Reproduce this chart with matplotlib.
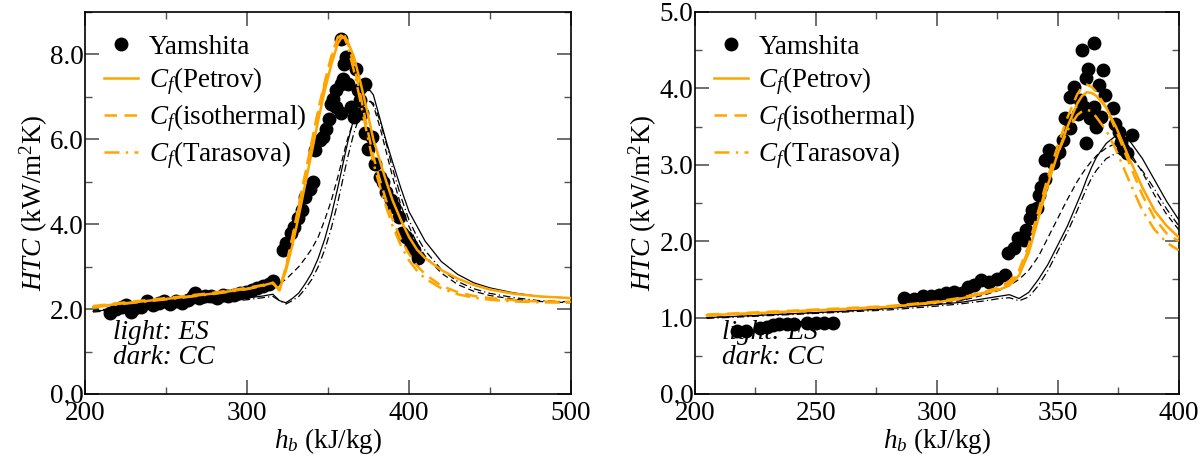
import numpy as np
import matplotlib
matplotlib.use("Agg")
import matplotlib.pyplot as plt
from matplotlib.font_manager import FontProperties

plt.rcParams['font.family'] = ['Liberation Serif', 'DejaVu Serif']
plt.rcParams['mathtext.fontset'] = 'custom'
plt.rcParams['mathtext.rm'] = 'Liberation Serif'
plt.rcParams['mathtext.it'] = 'Liberation Serif:italic'
plt.rcParams['font.size'] = 19.5

ORANGE = '#ffa500'
FS = 19.5

# ---------------- left panel ----------------
exp_hb_L = [215.5, 219.1, 222.7, 225.1, 228.7, 231.1, 234.7, 238.3, 241.8, 245.4,
            249.0, 252.6, 256.2, 259.8, 263.4, 266.9, 268.1, 270.5, 274.1, 277.7,
            281.3, 284.9, 288.5, 292.0, 295.6, 299.2, 302.8, 306.4, 310.0, 313.6,
            315.9,
            322, 324, 327, 329, 331.5, 334, 336, 339, 341, 342, 345, 347, 349,
            350.6, 352, 353, 355, 358, 359, 358, 360, 361, 355, 358, 362.5, 364,
            366, 367, 368.5, 370, 371, 373, 373, 374.5, 377, 379, 382, 384, 386,
            389, 391, 393.6, 396, 398, 401, 403, 405.6]
exp_htc_L = [1.90, 2.00, 2.06, 2.10, 1.94, 2.02, 2.06, 2.18, 2.10, 2.14,
             2.18, 2.13, 2.18, 2.14, 2.22, 2.30, 2.37, 2.25, 2.30, 2.31,
             2.27, 2.34, 2.30, 2.34, 2.37, 2.41, 2.45, 2.49, 2.54, 2.60,
             2.66,
             3.39, 3.55, 3.79, 3.94, 4.14, 4.33, 4.65, 4.84, 5.0, 5.74, 5.98, 6.06,
             6.25, 6.49, 6.84, 6.96, 7.16, 7.31, 7.43, 8.37, 7.78, 7.94, 6.76, 6.61,
             7.31, 6.76, 6.53, 7.66, 7.16, 6.92, 6.61, 7.31, 6.14, 5.78, 6.06, 5.43,
             5.12, 5.0, 4.76, 4.57, 4.41, 4.18, 3.79, 3.71, 3.51, 3.39, 3.2]

hb_L = [205, 220, 240, 260, 280, 300, 310, 316, 320, 324, 328, 332, 336, 340,
        344, 348, 352, 356, 358, 360, 362, 366, 370, 374, 376, 378, 382, 386,
        390, 395, 400, 405, 410, 420, 430, 440, 450, 465, 480, 500]

es_petrov_L = [2.05, 2.12, 2.20, 2.28, 2.37, 2.48, 2.56, 2.62, 2.45, 2.90, 3.50,
               4.20, 4.95, 5.70, 6.45, 7.15, 7.75, 8.25, 8.38, 8.40, 8.32, 7.95,
               7.35, 6.70, 6.35, 6.00, 5.50, 5.00, 4.55, 4.10, 3.70, 3.40, 3.20,
               2.92, 2.72, 2.57, 2.46, 2.36, 2.30, 2.26]
es_iso_L = [2.07, 2.14, 2.22, 2.30, 2.39, 2.50, 2.57, 2.62, 2.45, 3.00, 3.70,
            4.45, 5.20, 5.95, 6.70, 7.35, 7.95, 8.40, 8.50, 8.46, 8.30, 7.75,
            7.05, 6.30, 5.95, 5.60, 5.05, 4.55, 4.10, 3.65, 3.30, 3.02, 2.82,
            2.55, 2.40, 2.31, 2.26, 2.21, 2.18, 2.17]
es_tara_L = [2.04, 2.11, 2.19, 2.27, 2.36, 2.47, 2.55, 2.61, 2.44, 2.95, 3.65,
             4.40, 5.15, 5.90, 6.65, 7.30, 7.90, 8.38, 8.45, 8.40, 8.22, 7.62,
             6.90, 6.15, 5.80, 5.45, 4.90, 4.40, 3.95, 3.50, 3.15, 2.90, 2.72,
             2.49, 2.35, 2.27, 2.22, 2.18, 2.16, 2.15]

cc_petrov_L = [1.95, 2.00, 2.06, 2.12, 2.18, 2.26, 2.31, 2.35, 2.20, 2.15, 2.25,
               2.38, 2.60, 2.85, 3.20, 3.65, 4.20, 4.85, 5.20, 5.55, 5.90, 6.50,
               6.95, 7.15, 7.15, 7.05, 6.50, 5.95, 5.45, 4.85, 4.30, 3.95, 3.60,
               3.12, 2.82, 2.62, 2.50, 2.38, 2.30, 2.26]
cc_iso_L = [1.97, 2.02, 2.08, 2.15, 2.22, 2.33, 2.42, 2.52, 2.60, 2.70, 2.85,
            3.00, 3.20, 3.42, 3.70, 4.10, 4.55, 5.10, 5.40, 5.70, 6.00, 6.45,
            6.75, 6.90, 6.90, 6.80, 6.30, 5.70, 5.10, 4.45, 3.95, 3.55, 3.25,
            2.85, 2.58, 2.42, 2.32, 2.23, 2.18, 2.15]
cc_tara_L = [1.93, 1.98, 2.04, 2.10, 2.16, 2.22, 2.27, 2.30, 2.20, 2.12, 2.20,
             2.30, 2.48, 2.70, 3.00, 3.40, 3.90, 4.50, 4.85, 5.20, 5.55, 6.15,
             6.60, 6.85, 6.90, 6.85, 6.45, 5.90, 5.30, 4.65, 4.10, 3.70, 3.38,
             2.93, 2.65, 2.48, 2.37, 2.27, 2.20, 2.17]

# ---------------- right panel ----------------
exp_hb_R = [217.6, 221.3, 226.8, 229.8, 232.3, 235.0, 238.0, 241.2, 246.4, 249.9,
            253.6, 257.0,
            286.4, 290.4, 294.4, 297.6, 300.8, 304.0, 307.2, 310.4, 312.8, 315.2,
            318.4, 321.6, 324.8, 328.0, 329.6, 332.0, 333.6, 336.0, 336.8, 338.4,
            339.2, 341.6, 342.4, 343.2, 344.8, 344.8, 346.4, 348.0, 348.8, 350.4,
            352.0, 352.8, 355.2, 355.2, 356.8, 358.4, 360.0, 359.2, 360.8, 361.6,
            362.4, 361.6, 363.2, 364.8, 364.8, 365.6, 367.2, 368.0, 368.8, 369.6,
            372.8, 373.6, 375.2, 376.0, 376.8, 378.4, 380.8]
exp_htc_R = [0.82, 0.83, 0.86, 0.88, 0.90, 0.91, 0.92, 0.92, 0.93, 0.93,
             0.93, 0.93,
             1.25, 1.24, 1.28, 1.28, 1.30, 1.32, 1.34, 1.32, 1.40, 1.43,
             1.49, 1.46, 1.50, 1.56, 1.84, 1.91, 2.04, 2.02, 2.15, 2.30,
             2.41, 2.43, 2.60, 2.71, 2.82, 3.06, 3.19, 3.02, 3.13, 3.17,
             3.32, 3.61, 3.89, 3.48, 4.02, 3.67, 4.50, 3.85, 3.76, 4.13,
             4.26, 3.28, 3.61, 4.59, 3.76, 3.50, 4.04, 3.63, 4.24, 3.91,
             3.74, 3.54, 3.43, 3.30, 3.21, 3.15, 3.39]

hb_R = [205, 220, 240, 260, 280, 300, 310, 320, 326, 330, 334, 338, 342, 346,
        350, 354, 358, 360, 362, 364, 366, 370, 374, 376, 380, 385, 390, 395, 400]

es_petrov_R = [1.03, 1.05, 1.08, 1.11, 1.14, 1.20, 1.25, 1.32, 1.37, 1.42, 1.55,
               1.85, 2.30, 2.75, 3.15, 3.50, 3.80, 3.90, 3.95, 3.94, 3.90, 3.75,
               3.50, 3.35, 3.05, 2.70, 2.40, 2.20, 2.05]
es_iso_R = [1.04, 1.06, 1.09, 1.12, 1.15, 1.21, 1.26, 1.34, 1.40, 1.48, 1.62,
            1.95, 2.40, 2.85, 3.25, 3.62, 3.92, 4.02, 4.05, 4.02, 3.95, 3.75,
            3.45, 3.30, 2.98, 2.60, 2.30, 2.10, 2.00]
es_tara_R = [1.03, 1.05, 1.08, 1.11, 1.14, 1.20, 1.25, 1.33, 1.38, 1.45, 1.58,
             1.90, 2.35, 2.80, 3.15, 3.45, 3.65, 3.70, 3.72, 3.70, 3.62, 3.45,
             3.20, 3.05, 2.75, 2.40, 2.15, 1.98, 1.88]

cc_petrov_R = [1.00, 1.02, 1.05, 1.08, 1.12, 1.17, 1.20, 1.25, 1.28, 1.30, 1.25,
               1.33, 1.50, 1.70, 1.95, 2.20, 2.50, 2.65, 2.82, 2.97, 3.10, 3.28,
               3.38, 3.38, 3.30, 3.08, 2.80, 2.52, 2.28]
cc_iso_R = [1.00, 1.02, 1.05, 1.08, 1.12, 1.18, 1.22, 1.30, 1.36, 1.42, 1.50,
            1.62, 1.80, 2.05, 2.30, 2.55, 2.78, 2.88, 2.97, 3.05, 3.12, 3.22,
            3.28, 3.27, 3.15, 2.90, 2.60, 2.35, 2.15]
cc_tara_R = [0.99, 1.01, 1.04, 1.07, 1.10, 1.15, 1.18, 1.22, 1.25, 1.26, 1.22,
             1.27, 1.42, 1.62, 1.87, 2.12, 2.40, 2.55, 2.70, 2.83, 2.93, 3.08,
             3.15, 3.15, 3.10, 2.92, 2.68, 2.42, 2.20]


def style_axis(ax, xlim, ylim, xmaj, xmin, ymaj, ymin):
    ax.set_xlim(*xlim)
    ax.set_ylim(*ylim)
    ax.set_xticks(xmaj)
    ax.set_xticks(xmin, minor=True)
    ax.set_yticks(ymaj)
    ax.set_yticks(ymin, minor=True)
    ax.set_yticklabels(['%.1f' % v for v in ymaj])
    ax.tick_params(which='both', direction='in', top=True, right=True,
                   color='#555555', labelsize=FS)
    ax.tick_params(axis='x', pad=5)
    ax.tick_params(axis='y', pad=1)
    ax.tick_params(which='major', length=10, width=1.2)
    ax.tick_params(which='minor', length=5, width=1.0)
    for s in ax.spines.values():
        s.set_linewidth(1.2)
    ax.set_xlabel(r'$h_b$ (kJ/kg)', fontsize=FS, labelpad=0)
    ax.set_ylabel(r'$HTC$ (kW/m$^2$K)', fontsize=FS, labelpad=0)


def draw_panel(ax, hb_exp, htc_exp, hb, es, cc):
    ax.plot(hb_exp, htc_exp, 'o', color='black', ms=9, mec='black',
            label='Yamshita', zorder=2)
    styles = ['-', (0, (5, 3)), (0, (6, 2.5, 1, 2.5))]
    names = [r'$C_f$(Petrov)', r'$C_f$(isothermal)', r'$C_f$(Tarasova)']
    for y, ls, nm in zip(es, styles, names):
        ax.plot(hb, y, color=ORANGE, lw=1.8, ls=ls, label=nm, zorder=4)
    for y, ls in zip(cc, styles):
        ax.plot(hb, y, color='black', lw=0.9, ls=ls, zorder=3)
    ax.legend(loc='upper left', bbox_to_anchor=(0.0, 0.99), frameon=False,
              numpoints=1, handlelength=1.25, handletextpad=0.4,
              labelspacing=0.2, fontsize=FS, borderaxespad=0.3)
    ital = FontProperties(family='Liberation Serif', style='italic', size=FS)
    ax.text(0.057, 0.195, 'light: ES\ndark: CC', transform=ax.transAxes,
            fontproperties=ital, va='top', ha='left', linespacing=1.0,
            zorder=5)


fig = plt.figure(figsize=(12.02, 4.65), dpi=100)
ax1 = fig.add_axes([0.0707, 0.1527, 0.4043, 0.8215])
ax2 = fig.add_axes([0.578, 0.1527, 0.4027, 0.8215])

draw_panel(ax1, exp_hb_L, exp_htc_L, hb_L,
           [es_petrov_L, es_iso_L, es_tara_L],
           [cc_petrov_L, cc_iso_L, cc_tara_L])
style_axis(ax1, (200, 500), (0, 9), [200, 300, 400, 500], [250, 350, 450],
           [0, 2, 4, 6, 8], [1, 3, 5, 7, 9])

draw_panel(ax2, exp_hb_R, exp_htc_R, hb_R,
           [es_petrov_R, es_iso_R, es_tara_R],
           [cc_petrov_R, cc_iso_R, cc_tara_R])
style_axis(ax2, (200, 400), (0, 5), [200, 250, 300, 350, 400],
           [225, 275, 325, 375], [0, 1, 2, 3, 4, 5],
           [0.5, 1.5, 2.5, 3.5, 4.5])

fig.savefig('out.png', dpi=100)
